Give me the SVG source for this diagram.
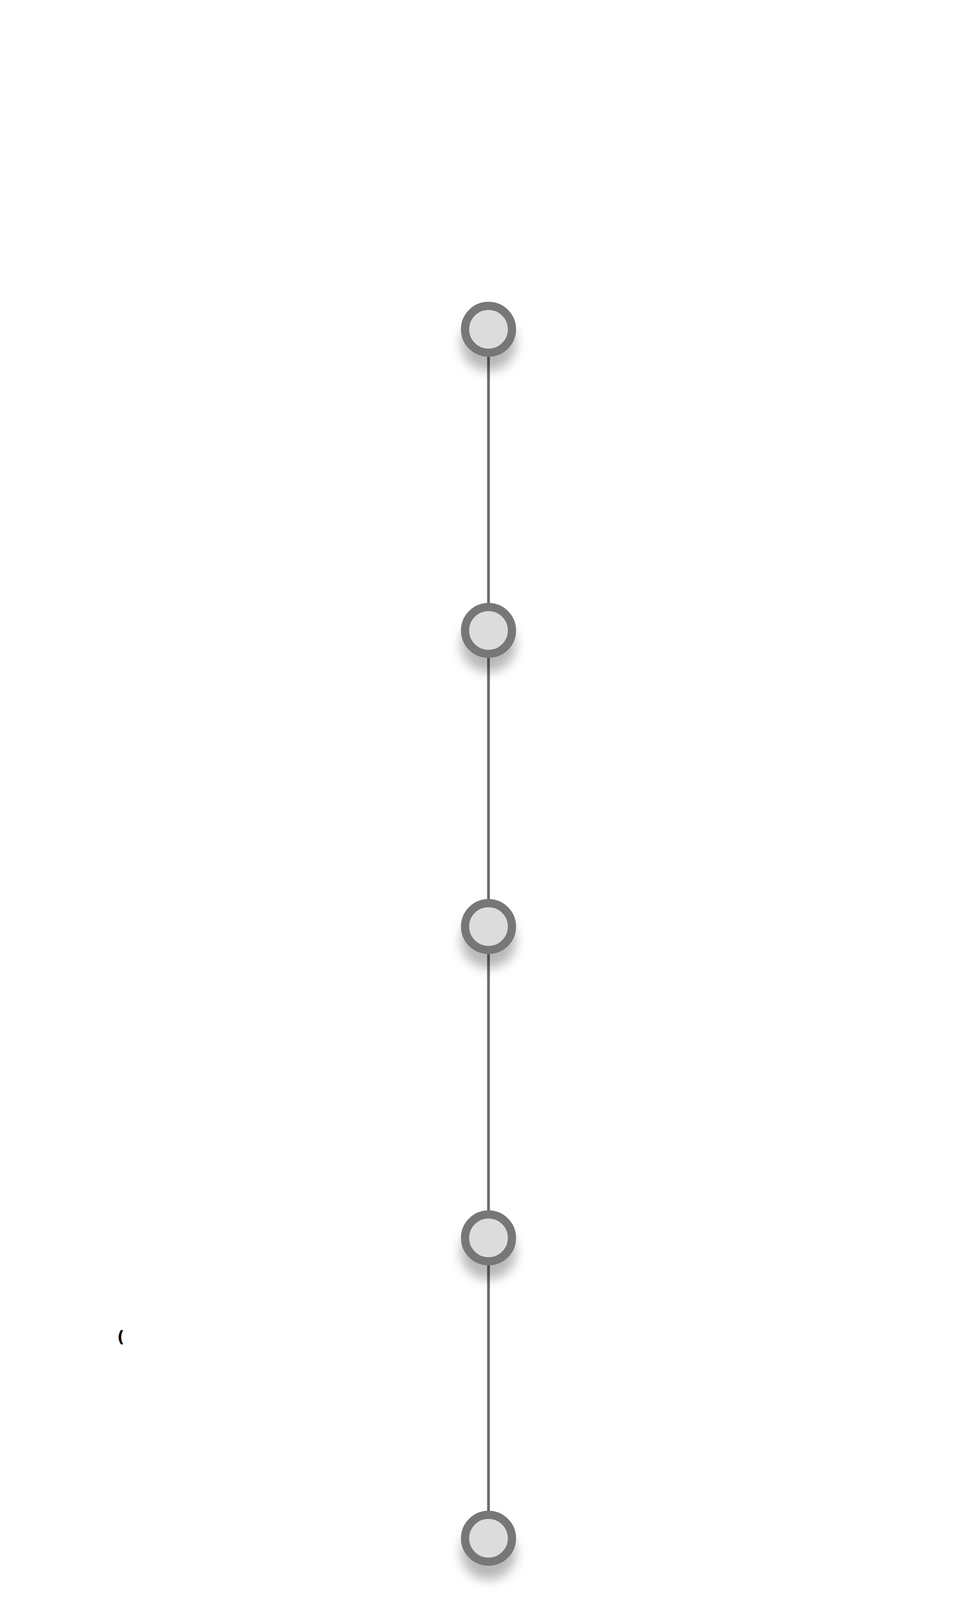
<svg xmlns="http://www.w3.org/2000/svg" width="2500" height="4479" viewBox="0 0 2500 4479">
<style>
.edge{stroke:#6b6b6b;stroke-width:7;fill:none}
.node{fill:#dcdcdc;stroke:#777777;stroke-width:21}
.lbl{font-family:"DejaVu Sans",sans-serif;font-size:40px;font-weight:bold;fill:#000}
</style>
<defs>
<filter id="sh" x="-80%" y="-80%" width="260%" height="300%">
<feDropShadow dx="0" dy="36" stdDeviation="14" flood-color="#000" flood-opacity="0.28"/>
</filter>
</defs>
<rect width="2500" height="4479" fill="#ffffff"/>
<g id="connectors">
<line class="edge" x1="1250" y1="843" x2="1250" y2="1614"/>
<line class="edge" x1="1250" y1="1614" x2="1250" y2="2372"/>
<line class="edge" x1="1250" y1="2372" x2="1250" y2="3169"/>
<line class="edge" x1="1250" y1="3169" x2="1250" y2="3938"/>
</g>
<g id="node1"><circle class="node" cx="1250" cy="843" r="60" filter="url(#sh)"/></g>
<g id="node2"><circle class="node" cx="1250" cy="1614" r="60" filter="url(#sh)"/></g>
<g id="node3"><circle class="node" cx="1250" cy="2372" r="60" filter="url(#sh)"/></g>
<g id="node4"><circle class="node" cx="1250" cy="3169" r="60" filter="url(#sh)"/></g>
<g id="node5"><circle class="node" cx="1250" cy="3938" r="60" filter="url(#sh)"/></g>
<text class="lbl" x="300" y="3436">(</text>
</svg>
